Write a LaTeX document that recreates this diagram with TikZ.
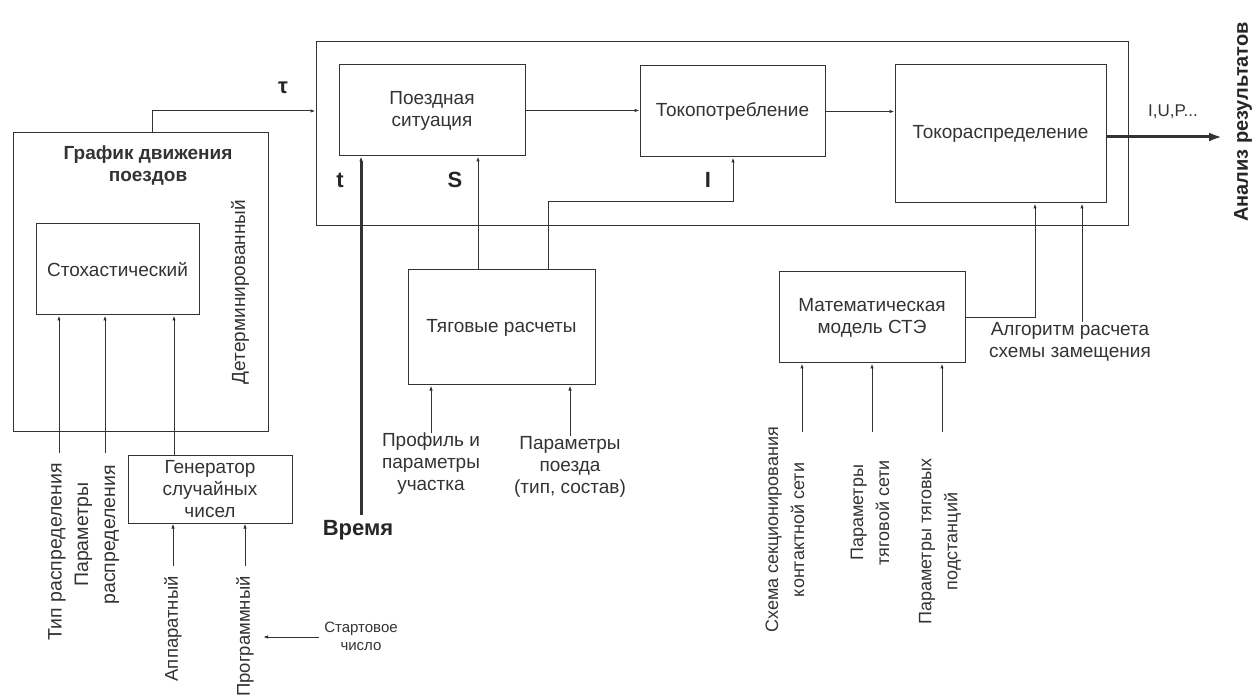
\documentclass[tikz,border=0pt]{standalone}
\usepackage{fontspec}
\setmainfont{Liberation Sans}
\usetikzlibrary{arrows.meta,positioning}

\begin{document}
\begin{tikzpicture}[x=1pt,y=-1pt,
    >={Latex[length=5pt,width=3.5pt]},
    ln/.style={draw=black!80, line width=1pt},
    heavy/.style={draw=black!80, line width=3pt},
    box/.style={draw=black!80, line width=1pt, inner sep=0pt, align=center,
        text=black!80, font=\fontsize{19}{22}\selectfont},
    txt/.style={text=black!80, align=center, inner sep=0pt,
        font=\fontsize{19}{22}\selectfont},
    vtxt/.style={txt, rotate=90, anchor=east, font=\fontsize{18}{26}\selectfont},
    bold/.style={text=black!85, inner sep=0pt, font=\fontsize{22}{24}\selectfont\bfseries}]

    \useasboundingbox (0,0) rectangle (1258,700);

    % main frame and blocks
    \node[box, minimum width=812, minimum height=184] (frame) at (722,134) {};
    \node[box, minimum width=186, minimum height=91] (poezd) at (432,110.5) {Поездная\\ситуация};
    \node[box, minimum width=185, minimum height=91] (tokpotr) at (732.5,111.5) {Токопотребление};
    \node[box, minimum width=211, minimum height=138] (tokras) at (1000.5,134) {Токораспределение};

    % train schedule
    \node[box, minimum width=255, minimum height=298] (graf) at (140.5,282) {};
    \node[txt, font=\fontsize{19}{22}\selectfont\bfseries] (grafT) at (148,166) {График движения\\поездов};
    \node[box, minimum width=163, minimum height=91] (stoch) at (117.5,269.5) {Стохастический};
    \node[txt, rotate=90] (determ) at (240,292) {Детерминированный};
    \node[box, minimum width=164, minimum height=68] (gen) at (210,489) {Генератор\\случайных\\чисел};

    % lower blocks
    \node[box, minimum width=187, minimum height=115] (tyag) at (501.5,327.5) {Тяговые расчеты};
    \node[box, minimum width=186, minimum height=91] (mat) at (872,317.5) {Математическая\\модель СТЭ};

    % labels
    \node[vtxt, font=\fontsize{19.5}{27}\selectfont] (tip) at (57,463) {Тип распределения};
    \node[vtxt, font=\fontsize{19.5}{27}\selectfont] (parR) at (97,465) {Параметры\\распределения};
    \node[vtxt, font=\fontsize{18.5}{26}\selectfont] (app) at (173,576) {Аппаратный};
    \node[vtxt, font=\fontsize{18.5}{26}\selectfont] (prog) at (245,576) {Программный};
    \node[txt, font=\fontsize{15}{18}\selectfont, inner sep=5pt] (start) at (361,636) {Стартовое\\число};
    \node[txt, anchor=north] (prof) at (431,433) {Профиль и\\параметры\\участка};
    \node[txt, anchor=north] (parP) at (570,436) {Параметры\\поезда\\(тип, состав)};
    \node[txt, anchor=north] (alg) at (1070,322) {Алгоритм расчета\\схемы замещения};
    \node[vtxt] (schema) at (785,427) {Схема секционирования\\контактной сети};
    \node[vtxt] (parT) at (870,460) {Параметры\\тяговой сети};
    \node[vtxt] (parS) at (940,458) {Параметры тяговых\\подстанций};
    \node[bold] (time) at (358,530) {Время};
    \node[bold] (tl) at (340,180) {t};
    \node[bold] (sl) at (455,180) {S};
    \node[bold] (il) at (708,180) {I};
    \node[bold] (tau) at (283,88) {τ};
    \node[txt, font=\fontsize{17}{20}\selectfont] (iup) at (1173,112) {I,U,P...};
    \node[bold, rotate=90, font=\fontsize{20}{24}\selectfont\bfseries] (anal) at (1243,122) {Анализ результатов};

    % x positions of the connectors
    \coordinate (xg) at (152,0);
    \coordinate (xc) at (174,0);
    \coordinate (xs) at (478,0);
    \coordinate (xi) at (548,0);
    \coordinate (xj) at (733,0);
    \coordinate (xr1) at (1035,0);
    \coordinate (xr2) at (1082,0);
    \coordinate (tauY) at (0,111);
    \coordinate (iY) at (0,202);

    % free ends
    \coordinate (tipE) at (59,453);
    \coordinate (parE) at (105,453);
    \coordinate (appE) at (173,566);
    \coordinate (progE) at (245,566);
    \coordinate (startT) at (263,637);
    \coordinate (timeS) at (361,515);
    \coordinate (res) at (1222,137);
    \coordinate (m1E) at (802,432);
    \coordinate (m2E) at (872,432);
    \coordinate (m3E) at (942,432);

    % upper chain
    \draw[ln,->] (graf.north -| xg) |- (frame.west |- tauY);
    \draw[ln,->] (poezd.east) -- (tokpotr.west |- poezd.east);
    \draw[ln,->] (tokpotr.east) -- (tokras.west |- tokpotr.east);
    \draw[heavy,-{Latex[length=13pt,width=9pt]}] (tokras.east |- res) -- (res);

    % time, s, I
    \draw[heavy,->] (timeS) -- (poezd.south -| timeS);
    \draw[ln,->] (tyag.north -| xs) -- (poezd.south -| xs);
    \draw[ln,->] (tyag.north -| xi) |- (xj |- iY) -- (tokpotr.south -| xj);

    % schedule inputs
    \draw[ln,->] (tipE) -- (stoch.south -| tipE);
    \draw[ln,->] (parE) -- (stoch.south -| parE);
    \draw[ln,->] (gen.north -| xc) -- (stoch.south -| xc);
    \draw[ln,->] (appE) -- (gen.south -| appE);
    \draw[ln,->] (progE) -- (gen.south -| progE);
    \draw[ln,->] (start.west |- startT) -- (startT);

    % traction calculation inputs
    \draw[ln,->] (prof.north) -- (tyag.south -| prof.north);
    \draw[ln,->] (parP.north) -- (tyag.south -| parP.north);

    % model of the traction system
    \draw[ln,->] (m1E) -- (mat.south -| m1E);
    \draw[ln,->] (m2E) -- (mat.south -| m2E);
    \draw[ln,->] (m3E) -- (mat.south -| m3E);
    \draw[ln,->] (mat.east) -| (tokras.south -| xr1);
    \draw[ln,->] (alg.north -| xr2) -- (tokras.south -| xr2);
\end{tikzpicture}
\end{document}
